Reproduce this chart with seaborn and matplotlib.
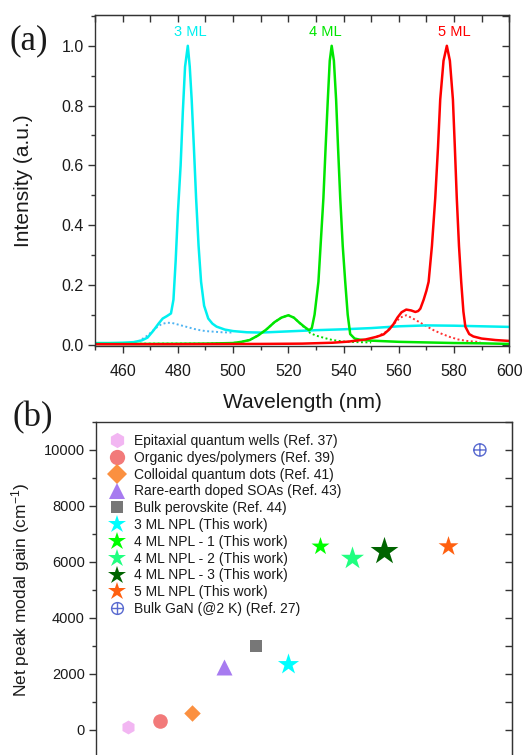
"""
plot.py - PL spectra of 3/4/5 ML nanoplatelets (a) and net modal gain comparison (b).
"""

import matplotlib
matplotlib.use("Agg")  # no display

import matplotlib.pyplot as plt
import seaborn as sns
from matplotlib.path import Path
from matplotlib.lines import Line2D
from matplotlib.ticker import MultipleLocator

# ---------------- panel (a): spectra ----------------
wl_3ml = [450, 455, 460, 464, 467, 469, 471, 473, 474.5, 476, 477.5, 478.4, 479.2, 480,
          481, 481.8, 482.6, 483.6, 484.3, 485, 485.8, 486.6, 487.5, 488.4, 489.5, 491,
          492.5, 494, 497, 500, 505, 510, 515, 520, 525, 530, 540, 550, 560, 570, 580,
          590, 600]
int_3ml = [0.005, 0.005, 0.006, 0.008, 0.014, 0.023, 0.045, 0.07, 0.087, 0.095, 0.104,
           0.15, 0.28, 0.44, 0.6, 0.78, 0.93, 1.0, 0.93, 0.82, 0.66, 0.49, 0.33, 0.21,
           0.13, 0.087, 0.07, 0.06, 0.05, 0.045, 0.041, 0.04, 0.042, 0.044, 0.046, 0.048,
           0.051, 0.055, 0.061, 0.064, 0.063, 0.061, 0.059]

wl_3ml_dot = [464, 466, 469, 472, 474, 476, 478, 480, 482, 484, 486, 488, 490, 493, 496, 500]
int_3ml_dot = [0.008, 0.012, 0.03, 0.055, 0.068, 0.073, 0.072, 0.067, 0.062, 0.057, 0.052,
               0.048, 0.045, 0.043, 0.041, 0.04]

wl_4ml = [450, 470, 490, 500, 503, 506, 509, 512, 515, 517.5, 520, 522, 524, 526, 527.5,
          528.5, 529.5, 530.9, 531.8, 532.7, 533.5, 534.3, 535, 535.7, 536.5, 537.3, 538,
          538.8, 539.7, 540.6, 541.5, 542.4, 544, 546, 550, 560, 570, 580, 590, 600]
int_4ml = [0.002, 0.002, 0.003, 0.005, 0.009, 0.015, 0.03, 0.05, 0.075, 0.09, 0.098, 0.09,
           0.073, 0.058, 0.048, 0.055, 0.1, 0.21, 0.35, 0.49, 0.66, 0.82, 0.95, 1.0, 0.95,
           0.82, 0.66, 0.49, 0.33, 0.21, 0.1, 0.035, 0.02, 0.016, 0.013, 0.009, 0.007,
           0.005, 0.004, 0.002]

wl_4ml_dot = [450, 470, 490, 500, 503, 506, 509, 512, 515, 517.5, 520, 522, 524, 526, 528,
              530, 533, 536, 540, 545, 550]
int_4ml_dot = [0.002, 0.003, 0.003, 0.005, 0.009, 0.015, 0.03, 0.05, 0.075, 0.09, 0.098,
               0.09, 0.073, 0.055, 0.038, 0.03, 0.022, 0.015, 0.01, 0.008, 0.007]

wl_5ml = [450, 480, 510, 525, 536, 542, 548, 552, 554.5, 556.5, 558, 559.5, 561, 562.7,
          564.5, 566, 567, 567.8, 569, 570, 570.8, 572, 573.2, 574.2, 575, 576.2, 577.4,
          578.5, 579.6, 580.3, 581, 581.8, 582.6, 583.4, 584.1, 585.5, 587, 590, 595, 600]
int_5ml = [0.001, 0.001, 0.002, 0.003, 0.006, 0.01, 0.017, 0.026, 0.034, 0.05, 0.067, 0.09,
           0.108, 0.117, 0.114, 0.109, 0.112, 0.12, 0.15, 0.18, 0.21, 0.33, 0.49, 0.66,
           0.82, 0.95, 1.0, 0.95, 0.82, 0.66, 0.49, 0.33, 0.21, 0.11, 0.06, 0.035, 0.027,
           0.02, 0.015, 0.012]

wl_5ml_dot = [552, 555, 558, 560.5, 562.7, 564.5, 566.5, 569.5, 572.6, 575.5, 578.6, 581.5,
              584.7, 589.5]
int_5ml_dot = [0.026, 0.04, 0.067, 0.09, 0.098, 0.09, 0.08, 0.064, 0.048, 0.036, 0.025,
               0.017, 0.012, 0.008]

peak_labels = ["3 ML", "4 ML", "5 ML"]
peak_label_x = [484.4, 533.5, 580.0]

# ---------------- panel (b): net peak modal gain ----------------
gain_labels = [
    "Epitaxial quantum wells (Ref. 37)",
    "Organic dyes/polymers (Ref. 39)",
    "Colloidal quantum dots (Ref. 41)",
    "Rare-earth doped SOAs (Ref. 43)",
    "Bulk perovskite (Ref. 44)",
    "3 ML NPL (This work)",
    "4 ML NPL - 1 (This work)",
    "4 ML NPL - 2 (This work)",
    "4 ML NPL - 3 (This work)",
    "5 ML NPL (This work)",
    "Bulk GaN (@2 K) (Ref. 27)",
]
gain_x = [1, 2, 3, 4, 5, 6, 7, 8, 9, 11, 12]
gain_y = [100, 330, 600, 2250, 3000, 2350, 6580, 6130, 6380, 6580, 10000]

# marker styling (not data)
GAN_MARKER = Path.make_compound_path(
    Path.unit_circle(),
    Path([[-1, 0], [1, 0]]),
    Path([[0, -1], [0, 1]]),
)
gain_markers = ["h", "o", "D", "^", "s", "*", "*", "*", "*", "*", GAN_MARKER]
gain_colors = ["#f2b6f2", "#f27a7a", "#fb9040", "#a77bf0", "#777777", "#00ffff",
               "#00ff00", "#20ff80", "#006400", "#ff6010", "#5a6bd0"]
gain_ms = [10, 10.5, 8.4, 11.5, 8.6, 16, 13.6, 17.4, 21, 15, 8.8]
legend_ms = [11, 11, 10, 12, 8.5, 13.5, 13.5, 13.5, 13.5, 13.5, 8.5]

TXT = "#1a1a1a"
SPINE = "#333333"


def style_axis(ax, xmaj, xmin, ymaj, ymin, top_ticks, tick_size, xpad=3):
    """Origin-like ticks: out on left/bottom, mirrored in on top/right."""
    ax.xaxis.set_major_locator(MultipleLocator(xmaj))
    ax.xaxis.set_minor_locator(MultipleLocator(xmin))
    ax.yaxis.set_major_locator(MultipleLocator(ymaj))
    ax.yaxis.set_minor_locator(MultipleLocator(ymin))
    ax.tick_params(which="major", direction="out", length=5, width=1, color=SPINE,
                   labelsize=tick_size, labelcolor=TXT, pad=3)
    ax.tick_params(axis="x", which="major", pad=xpad)
    ax.tick_params(which="minor", direction="out", length=3, width=1, color=SPINE)
    for sp in ax.spines.values():
        sp.set_visible(True)
        sp.set_color(SPINE)
        sp.set_linewidth(1.0)

    sy = ax.secondary_yaxis("right")
    sy.yaxis.set_major_locator(MultipleLocator(ymin))
    sy.tick_params(direction="in", length=5, width=1, color=SPINE, labelright=False)
    sy.spines["right"].set_color(SPINE)
    if top_ticks:
        sx = ax.secondary_xaxis("top")
        sx.xaxis.set_major_locator(MultipleLocator(xmin))
        sx.tick_params(direction="in", length=5, width=1, color=SPINE, labeltop=False)
        sx.spines["top"].set_color(SPINE)


sns.set_style("ticks")
plt.rcParams["font.family"] = ["Liberation Sans", "DejaVu Sans"]
plt.rcParams["mathtext.default"] = "regular"

fig = plt.figure(figsize=(5.25, 7.55), dpi=100)
ax_a = fig.add_axes([0.181, 0.5417, 0.789, 0.4384])
ax_b = fig.add_axes([0.183, -0.0225, 0.792, 0.4636])

# ---- (a) ----
dotted = [(wl_3ml_dot, int_3ml_dot, "#4fb4f2"),
          (wl_4ml_dot, int_4ml_dot, "#00dd00"),
          (wl_5ml_dot, int_5ml_dot, "#ff3030")]
for x, y, c in dotted:
    sns.lineplot(x=x, y=y, ax=ax_a, color=c, lw=1.4, ls=(0, (1, 1.3)))

solid = [(wl_3ml, int_3ml, "#00f0f0"),
         (wl_4ml, int_4ml, "#00e600"),
         (wl_5ml, int_5ml, "#ff0000")]
for x, y, c in solid:
    sns.lineplot(x=x, y=y, ax=ax_a, color=c, lw=1.8)

for lab, lx, (_, _, c) in zip(peak_labels, peak_label_x, solid):
    ax_a.text(lx, 1.045, lab, color=c, fontsize=10.5, ha="center", va="center")

ax_a.set_xlim(450, 600)
ax_a.set_ylim(-0.005, 1.103)
style_axis(ax_a, 20, 10, 0.2, 0.1, True, 11.5, xpad=8)
ax_a.set_xlabel("Wavelength (nm)", fontsize=15, color=TXT, labelpad=10)
ax_a.set_ylabel("Intensity (a.u.)", fontsize=15, color=TXT)
ax_a.yaxis.set_label_coords(-0.15, 0.5)

# ---- (b) ----
for xv, yv, m, c, ms, lab in zip(gain_x, gain_y, gain_markers, gain_colors, gain_ms,
                                 gain_labels):
    if m is GAN_MARKER:
        sns.scatterplot(x=[xv], y=[yv], ax=ax_b, marker=m, s=ms ** 2,
                        facecolor="none", edgecolor=c, linewidth=1.0)
    else:
        sns.scatterplot(x=[xv], y=[yv], ax=ax_b, marker=m, s=ms ** 2,
                        color=c, edgecolor=c, linewidth=0)

handles = []
for m, c, ms in zip(gain_markers, gain_colors, legend_ms):
    if m is GAN_MARKER:
        h = Line2D([], [], ls="none", marker=m, markersize=ms, markerfacecolor="none",
                   markeredgecolor=c, markeredgewidth=1.0)
    else:
        h = Line2D([], [], ls="none", marker=m, markersize=ms, color=c,
                   markeredgewidth=0)
    handles.append(h)
ax_b.legend(handles, gain_labels, loc="upper left", bbox_to_anchor=(0.01, 0.993),
            frameon=False, fontsize=10, handlelength=1.0, handletextpad=0.7,
            labelspacing=0.2, borderaxespad=0.3, labelcolor=TXT)

ax_b.set_xlim(0, 13)
ax_b.set_ylim(-1500, 11000)
style_axis(ax_b, 1, 1, 2000, 1000, False, 10.5)
ax_b.set_xticklabels([])
ax_b.set_ylabel("Net peak modal gain (cm$^{-1}$)", fontsize=12.5, color=TXT)
ax_b.yaxis.set_label_coords(-0.155, 0.52)

# panel tags
fig.text(0.019, 0.946, "(a)", family=["Liberation Serif", "DejaVu Serif"], fontsize=25,
         color=TXT, va="center")
fig.text(0.024, 0.447, "(b)", family=["Liberation Serif", "DejaVu Serif"], fontsize=25,
         color=TXT, va="center")

fig.savefig("out.png", dpi=100)
plt.close(fig)
